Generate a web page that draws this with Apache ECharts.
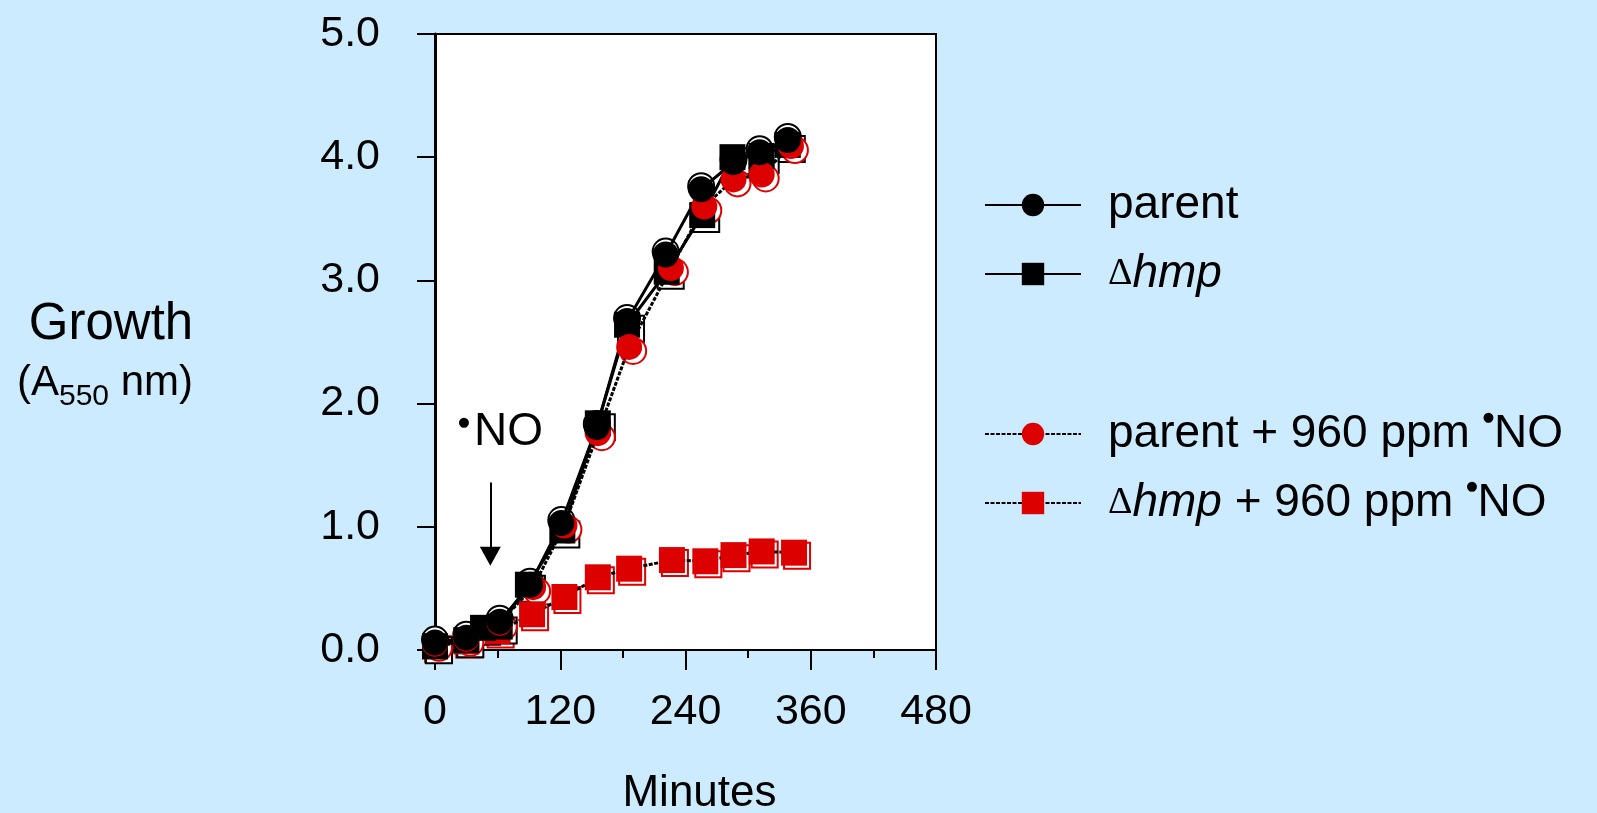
<!DOCTYPE html>
<html>
<head>
<meta charset="utf-8">
<script src="https://cdn.jsdelivr.net/npm/echarts@6/dist/echarts.min.js"></script>
<style>
  html, body { margin: 0; padding: 0; background: #ccebff; }
  #chart { width: 1597px; height: 813px; }
</style>
</head>
<body>
<div id="chart"></div>
<script>
  // minutes vs growth (A550 nm)
  const minuteTicks = [0, 120, 240, 360, 480]
  const growthTicks = [0, 1, 2, 3, 4, 5]

  const parent = [[0, 0.06], [30, 0.10], [62, 0.23], [91, 0.53], [121, 1.03], [155, 1.81],
    [184, 2.67], [221, 3.21], [255, 3.74], [286, 3.96], [311, 4.04], [338, 4.14]]
  const hmp = [[0, 0.03], [30, 0.08], [46, 0.18], [62, 0.19], [89, 0.53], [122, 0.97], [156, 1.84],
    [184, 2.64], [222, 3.07], [256, 3.53], [285, 4.00], [313, 4.01], [338, 4.10]]
  const parentNO = [[0, 0.05], [30, 0.09], [62, 0.22], [94, 0.51], [124, 1.01], [156, 1.76],
    [186, 2.46], [226, 3.10], [258, 3.60], [286, 3.82], [313, 3.86], [341, 4.09]]
  const hmpNO = [[0, 0.03], [30, 0.07], [60, 0.15], [93, 0.29], [124, 0.43], [156, 0.59],
    [186, 0.66], [227, 0.73], [259, 0.72], [286, 0.77], [313, 0.80], [344, 0.79]]

  // arrow marking the NO addition
  const noArrow = [[53, 1.36], [53, 0.76]]

  const red = '#dc0000'
  const font = 'Liberation Sans, Arial, sans-serif'

  const names = {
    parent: 'parent',
    hmp: 'Δhmp',
    parentNO: 'parent + 960 ppm ·NO',
    hmpNO: 'Δhmp + 960 ppm ·NO'
  }
  const legendText = {
    'parent': '{n|parent}',
    'Δhmp': '{d|Δ}{i|hmp}',
    'parent + 960 ppm ·NO': '{n|parent + 960 ppm }{dot|●}{n|NO}',
    'Δhmp + 960 ppm ·NO': '{d|Δ}{i|hmp}{n| + 960 ppm }{dot|●}{n|NO}'
  }

  function shadow(name, data, symbol, color, offset) {
    return {
      name: name + ' outline',
      type: 'scatter',
      data: data,
      symbol: symbol,
      symbolSize: 26,
      symbolOffset: offset,
      silent: true,
      itemStyle: { color: '#fff', borderColor: color, borderWidth: 2, opacity: 1 }
    }
  }

  function line(name, data, symbol, color, dashed) {
    return {
      name: name,
      type: 'line',
      data: data,
      symbol: symbol,
      symbolSize: 26,
      showAllSymbol: true,
      silent: true,
      itemStyle: { color: color, borderWidth: 0 },
      lineStyle: { color: '#000', width: 3, type: dashed ? [4, 1.5] : 'solid' }
    }
  }

  const chart = echarts.init(document.getElementById('chart'))

  const parentLine = line(names.parent, parent, 'circle', '#000', false)
  parentLine.markLine = {
    silent: true,
    symbol: ['none', 'triangle'],
    symbolSize: [21, 19],
    label: { show: false },
    lineStyle: { color: '#000', width: 2, type: 'solid' },
    data: [[{ coord: noArrow[0] }, { coord: noArrow[1] }]]
  }

  const legendBase = {
    orient: 'vertical',
    left: 979,
    itemWidth: 96,
    itemHeight: 28,
    itemGap: 23,
    selectedMode: false,
    formatter: function(name) { return legendText[name] },
    textStyle: {
      color: '#000',
      padding: [0, 0, 0, 22],
      rich: {
        n: { fontFamily: font, fontSize: 46, color: '#000' },
        i: { fontFamily: font, fontSize: 46, fontStyle: 'italic', color: '#000' },
        d: { fontFamily: 'Liberation Serif, serif', fontSize: 38, color: '#000' },
        dot: { fontFamily: 'DejaVu Sans', fontSize: 13, color: '#000', verticalAlign: 'top' }
      }
    }
  }

  chart.setOption({
    backgroundColor: '#ccebff',
    animation: false,
    grid: {
      left: 435,
      top: 34,
      width: 501,
      height: 616,
      outerBoundsMode: 'none',
      containLabel: false,
      show: true,
      backgroundColor: '#fff',
      borderColor: '#000',
      borderWidth: 2
    },
    legend: [
      Object.assign({}, legendBase, { top: 177, data: [names.parent, names.hmp] }),
      Object.assign({}, legendBase, { top: 406, data: [names.parentNO, names.hmpNO] })
    ],
    xAxis: {
      type: 'value',
      min: minuteTicks[0],
      max: minuteTicks[minuteTicks.length - 1],
      interval: 120,
      name: 'Minutes',
      nameLocation: 'middle',
      nameGap: 122,
      nameTextStyle: { fontFamily: font, fontSize: 44, color: '#000', padding: [0, 0, 0, 28] },
      axisLine: { lineStyle: { color: '#000', width: 2 } },
      axisTick: { length: 20, lineStyle: { color: '#000', width: 2 } },
      minorTick: { show: true, splitNumber: 2, length: 8, lineStyle: { color: '#000', width: 2 } },
      splitLine: { show: false },
      axisLabel: {
        margin: 41,
        fontFamily: font,
        fontSize: 43,
        color: '#000',
        formatter: function(v) { return minuteTicks.indexOf(v) >= 0 ? String(v) : '' }
      }
    },
    yAxis: {
      type: 'value',
      min: growthTicks[0],
      max: growthTicks[growthTicks.length - 1],
      interval: 1,
      axisLine: { show: true, lineStyle: { color: '#000', width: 3 } },
      axisTick: { show: true, length: 18, lineStyle: { color: '#000', width: 2 } },
      splitLine: { show: false },
      axisLabel: {
        margin: 55,
        fontFamily: font,
        fontSize: 43,
        color: '#000',
        padding: [0, 0, 10, 0],
        formatter: function(v) { return v.toFixed(1) }
      }
    },
    graphic: [
      {
        type: 'text', x: 111, y: 325,
        style: { text: 'Growth', fontFamily: font, fontSize: 51, fill: '#000', align: 'center', verticalAlign: 'middle' }
      },
      {
        type: 'text', x: 105, y: 362,
        style: {
          text: '{n|(A}{s|550}{n| nm)}',
          align: 'center',
          verticalAlign: 'top',
          rich: {
            n: { fontFamily: font, fontSize: 42, fill: '#000', lineHeight: 42, verticalAlign: 'top' },
            s: { fontFamily: font, fontSize: 30, fill: '#000', lineHeight: 50, verticalAlign: 'bottom' }
          }
        }
      },
      {
        type: 'text', x: 464, y: 423,
        style: { text: '●', fontFamily: 'DejaVu Sans', fontSize: 13, fill: '#000', align: 'center', verticalAlign: 'middle' }
      },
      {
        type: 'text', x: 474, y: 432,
        style: { text: 'NO', fontFamily: font, fontSize: 46, fill: '#000', align: 'left', verticalAlign: 'middle' }
      }
    ],
    series: [
      shadow(names.hmpNO, hmpNO, 'rect', red, [3, 3]),
      line(names.hmpNO, hmpNO, 'rect', red, true),
      shadow(names.hmp, hmp, 'rect', '#000', [4, 4]),
      line(names.hmp, hmp, 'rect', '#000', false),
      shadow(names.parentNO, parentNO, 'circle', red, [4, 4]),
      line(names.parentNO, parentNO, 'circle', red, true),
      shadow(names.parent, parent, 'circle', '#000', [0, -3]),
      parentLine
    ]
  })
</script>
</body>
</html>
